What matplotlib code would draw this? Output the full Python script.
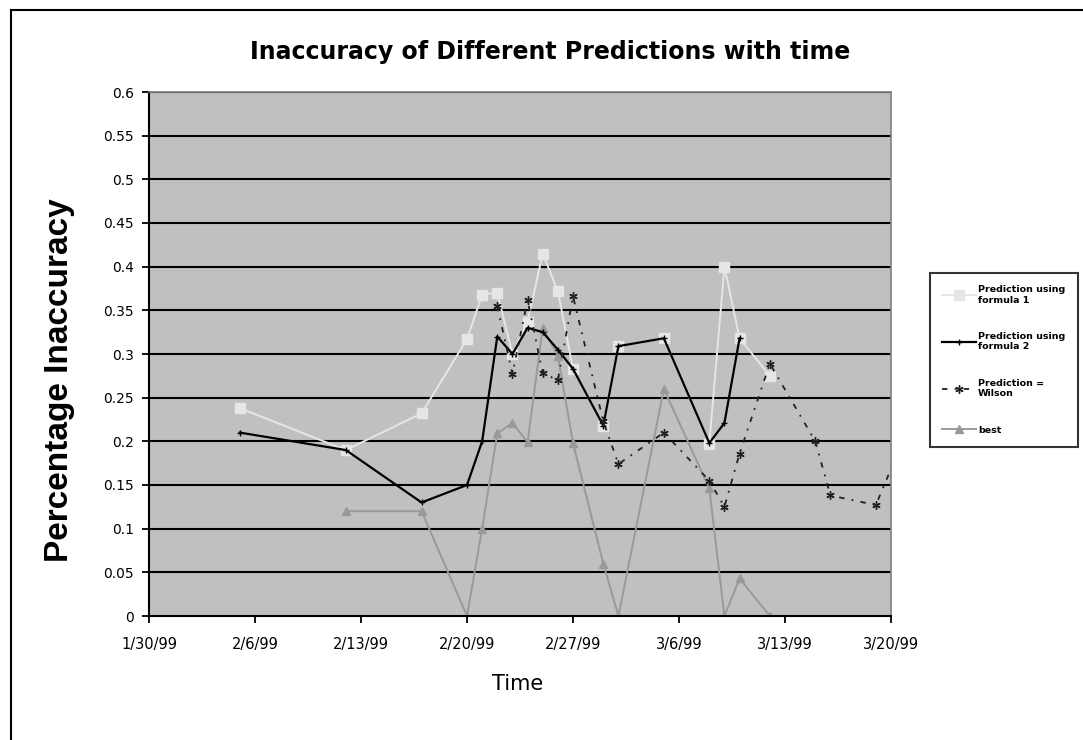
import matplotlib
matplotlib.use('Agg')
import matplotlib.pyplot as plt
import pandas as pd
from matplotlib.lines import Line2D

plt.rcParams['font.family'] = ['DejaVu Sans']

# data
f1_dates = ['1999-02-05', '1999-02-12', '1999-02-17', '1999-02-20', '1999-02-21', '1999-02-22',
            '1999-02-23', '1999-02-24', '1999-02-25', '1999-02-26', '1999-02-27', '1999-03-01',
            '1999-03-02', '1999-03-05', '1999-03-08', '1999-03-09', '1999-03-10', '1999-03-12']
f1_vals = [0.238, 0.19, 0.232, 0.317, 0.368, 0.37, 0.30, 0.337, 0.415, 0.372, 0.283, 0.218,
           0.309, 0.318, 0.197, 0.40, 0.318, 0.275]

f2_dates = ['1999-02-05', '1999-02-12', '1999-02-17', '1999-02-20', '1999-02-21', '1999-02-22',
            '1999-02-23', '1999-02-24', '1999-02-25', '1999-02-26', '1999-02-27', '1999-03-01',
            '1999-03-02', '1999-03-05', '1999-03-08', '1999-03-09', '1999-03-10']
f2_vals = [0.21, 0.19, 0.13, 0.15, 0.20, 0.32, 0.30, 0.33, 0.325, 0.305, 0.283, 0.218,
           0.309, 0.318, 0.198, 0.221, 0.318]

wil_dates = ['1999-02-22', '1999-02-23', '1999-02-24', '1999-02-25', '1999-02-26', '1999-02-27',
             '1999-03-01', '1999-03-02', '1999-03-05', '1999-03-08', '1999-03-09', '1999-03-10',
             '1999-03-12', '1999-03-15', '1999-03-16', '1999-03-19', '1999-03-21']
wil_vals = [0.355, 0.277, 0.362, 0.278, 0.27, 0.366, 0.223, 0.174, 0.21, 0.155, 0.125, 0.186,
            0.289, 0.20, 0.138, 0.127, 0.21]

best_dates = ['1999-02-12', '1999-02-17', '1999-02-20', '1999-02-21', '1999-02-22', '1999-02-23',
              '1999-02-24', '1999-02-25', '1999-02-26', '1999-02-27', '1999-03-01', '1999-03-02',
              '1999-03-05', '1999-03-08', '1999-03-09', '1999-03-10', '1999-03-12']
best_vals = [0.12, 0.12, 0.0, 0.10, 0.209, 0.221, 0.199, 0.33, 0.298, 0.198, 0.06, 0.0,
             0.26, 0.146, 0.0, 0.043, 0.0]

x_ticks = ['1999-01-30', '1999-02-06', '1999-02-13', '1999-02-20', '1999-02-27',
           '1999-03-06', '1999-03-13', '1999-03-20']
x_tick_labels = ['1/30/99', '2/6/99', '2/13/99', '2/20/99', '2/27/99', '3/6/99', '3/13/99', '3/20/99']
y_ticks = [0, 0.05, 0.1, 0.15, 0.2, 0.25, 0.3, 0.35, 0.4, 0.45, 0.5, 0.55, 0.6]
y_tick_labels = ['0', '0.05', '0.1', '0.15', '0.2', '0.25', '0.3', '0.35', '0.4', '0.45', '0.5', '0.55', '0.6']

labels = ['Prediction using\nformula 1', 'Prediction using\nformula 2', 'Prediction =\nWilson', 'best']

fig = plt.figure(figsize=(10.83, 7.4), dpi=100)
ax = fig.add_axes([149 / 1083, 1 - 616 / 740, (891 - 149) / 1083, (616 - 92) / 740])
ax.set_facecolor('#c0c0c0')

for yv in y_ticks[1:]:
    ax.axhline(yv, color='black', lw=1.5, zorder=1)

ax.plot(pd.to_datetime(best_dates), best_vals, color='#999999', lw=1.4, marker='^',
        markersize=6, label=labels[3], zorder=2)
ax.plot(pd.to_datetime(f1_dates), f1_vals, color='#e6e6e6', lw=1.4, marker='s',
        markersize=7, markeredgecolor='#e6e6e6', label=labels[0], zorder=3)
ax.plot(pd.to_datetime(f2_dates), f2_vals, color='black', lw=1.6, marker='+',
        markersize=5, label=labels[1], zorder=4)
ax.plot(pd.to_datetime(wil_dates), wil_vals, color='#202020', lw=1.3, linestyle=(0, (3, 4, 1, 4)),
        marker=(6, 2, 0), markersize=6, label=labels[2], zorder=5)

ax.set_xlim(pd.Timestamp('1999-01-30'), pd.Timestamp('1999-03-20'))
ax.set_ylim(0, 0.6)
ax.set_xticks(pd.to_datetime(x_ticks))
ax.set_xticklabels(x_tick_labels, fontsize=10.5)
ax.set_yticks(y_ticks)
ax.set_yticklabels(y_tick_labels, fontsize=10)
ax.tick_params(axis='both', direction='out', length=5, width=1.3, color='black', pad=6)
ax.tick_params(axis='x', pad=10)

for side in ['left', 'bottom']:
    ax.spines[side].set_color('black')
    ax.spines[side].set_linewidth(1.5)
for side in ['top', 'right']:
    ax.spines[side].set_color('#808080')
    ax.spines[side].set_linewidth(1.2)

fig.text(60 / 1083, 1 - 380 / 740, 'Percentage Inaccuracy', fontsize=24, fontweight='bold',
         family='Liberation Sans', rotation=90, ha='center', va='center')
fig.text(518 / 1083, 1 - 684 / 740, 'Time', fontsize=15, ha='center', va='center')
fig.text(550 / 1083, 1 - 52 / 740, 'Inaccuracy of Different Predictions with time',
         fontsize=17, fontweight='bold', ha='center', va='center')

handles, labs = ax.get_legend_handles_labels()
order = [labs.index(l) for l in labels]
leg = fig.legend([handles[i] for i in order], [labs[i] for i in order],
                 loc='upper left', bbox_to_anchor=(930 / 1083, 1 - 273 / 740),
                 fontsize=6.8, frameon=True, fancybox=False, edgecolor='black',
                 handlelength=3.6, handletextpad=0.2, labelspacing=2.9,
                 borderpad=1.3, borderaxespad=0)
leg.get_frame().set_linewidth(1.5)
for t in leg.get_texts():
    t.set_fontweight('bold')

# outer chart border (left and top visible)
fig.add_artist(Line2D([11 / 1083, 11 / 1083], [0, 1 - 10 / 740], color='black', lw=1.5))
fig.add_artist(Line2D([11 / 1083, 1], [1 - 10 / 740, 1 - 10 / 740], color='black', lw=1.5))

fig.savefig('out.png', dpi=100)
